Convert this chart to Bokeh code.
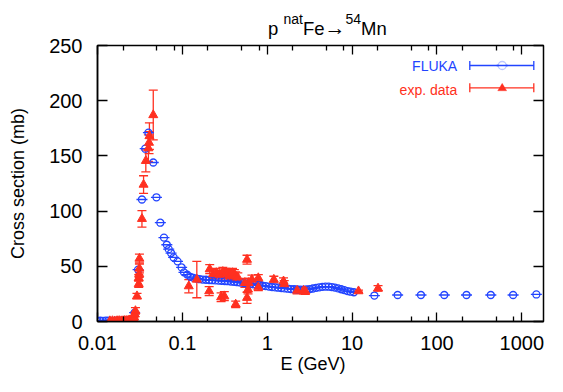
from bokeh.plotting import figure
from bokeh.layouts import column
from bokeh.models import (Range1d, FixedTicker, LogAxis, LinearAxis, Whisker, TeeHead,
                          ColumnDataSource, Label, BoxAnnotation, PolyAnnotation,
                          CustomJSTickFormatter, Div)
from bokeh.embed import file_html
from bokeh.resources import INLINE

# ---------------- data ----------------
fluka_e = [0.0100, 0.0108, 0.0116, 0.0125, 0.0134, 0.0144, 0.0155, 0.0167, 0.0180, 0.0193,
           0.0208, 0.0224, 0.0241, 0.0259,
           0.0274, 0.0301, 0.0334, 0.0365, 0.0398, 0.0454, 0.0495, 0.0550, 0.0607, 0.0656,
           0.0690, 0.0736, 0.0789, 0.0877, 0.0980, 0.1045, 0.1140, 0.1245,
           0.135, 0.147, 0.160, 0.174, 0.190, 0.207, 0.225, 0.245, 0.267, 0.290,
           0.316, 0.344, 0.375, 0.408, 0.445, 0.485, 0.528, 0.575, 0.626, 0.682,
           0.743, 0.810, 0.880, 0.960, 1.05, 1.14, 1.24, 1.35, 1.47, 1.60,
           1.75, 1.90, 2.07, 2.25, 2.45, 2.67, 2.91, 3.17, 3.45, 3.76,
           4.10, 4.46, 4.86, 5.30, 5.77, 6.28, 6.84, 7.45, 8.10, 8.83,
           9.60, 10.5,
           18.3, 34.4, 64.8, 122, 223, 431, 789, 1483]
fluka_xs = [0.6, 0.7, 0.6, 0.8, 0.7, 0.6, 0.5, 0.6, 0.5, 0.7,
            0.8, 0.9, 1.2, 2.0,
            8.0, 47, 110.5, 156.5, 171, 144, 112.5, 89.5, 76, 69.5,
            65.5, 62, 58, 54.5, 49, 44.5, 42.5, 40.5,
            39.5, 38.8, 38.3, 38.0, 37.8, 37.6, 37.4, 37.2, 37.0, 36.9,
            36.7, 36.5, 36.2, 36.0, 35.6, 35.2, 34.8, 34.4, 34.0, 33.6,
            33.2, 32.8, 32.4, 32.0, 31.6, 31.2, 30.9, 30.6, 30.3, 30.0,
            29.7, 29.4, 29.2, 29.0, 28.8, 28.8, 29.0, 29.4, 29.9, 30.5,
            31.0, 31.4, 31.6, 31.5, 31.2, 30.7, 30.0, 29.2, 28.4, 27.6,
            27.0, 26.5,
            23.5, 24.0, 24.0, 24.0, 24.0, 24.0, 24.0, 24.5]

exp_e = [0.0140, 0.0150, 0.0160, 0.0170, 0.0180, 0.0190, 0.0200, 0.0210, 0.0220, 0.0230,
         0.0240, 0.0250,
         0.0265, 0.0270, 0.0275, 0.0280, 0.0292, 0.0306, 0.0306, 0.0310, 0.0312, 0.0312,
         0.0334, 0.0349, 0.0371, 0.0398, 0.0405, 0.0409, 0.0454,
         0.119, 0.148, 0.207, 0.210, 0.230, 0.251, 0.274, 0.286, 0.300, 0.312,
         0.327, 0.340, 0.356, 0.370, 0.390, 0.410, 0.425, 0.425, 0.450, 0.545,
         0.578, 0.578, 0.594, 0.603, 0.660, 0.785, 0.785, 1.196, 1.556, 1.585,
         2.25, 2.68, 2.81, 11.9, 20.2]
exp_xs = [0.4, 0.5, 0.3, 0.5, 0.6, 0.4, 0.5, 0.7, 0.6, 0.9,
          1.2, 1.8,
          2.5, 3.6, 6.5, 9.6, 23, 34, 39.5, 43, 48, 57,
          93, 124, 145.5, 157, 162, 168, 187,
          32, 38, 27.5, 47.5, 43, 44, 42.4, 22, 45, 23,
          44, 43, 41, 42, 44, 43, 41, 15.5, 40, 35,
          56, 21.5, 29, 35, 38, 39.4, 31, 38, 36.5, 34,
          28, 28, 27.5, 27.5, 30]
exp_err = [0.5, 0.5, 0.5, 0.5, 0.5, 0.5, 0.5, 0.5, 0.5, 0.5,
           0.6, 0.8,
           1.0, 1.5, 2.0, 3.0, 2.5, 3.0, 3.0, 3.0, 4.0, 4.0,
           7.5, 8.0, 10, 12, 10, 12, 22.5,
           6, 16.5, 4, 4, 4, 4, 4, 4, 4, 4,
           4, 4, 4, 4, 4, 4, 4, 3, 4, 4,
           4, 5, 4, 4, 4, 3, 3, 3, 3, 3,
           3, 3, 3, 1, 2.5]

x_ticks = [0.01, 0.1, 1, 10, 100, 1000]
x_tick_labels = ["0.01", "0.1", "1", "10", "100", "1000"]
x_minor_ticks = [0.02, 0.05, 0.08, 0.2, 0.5, 0.8, 2, 5, 8, 20, 50, 80, 200, 500, 800]
y_ticks = [0, 50, 100, 150, 200, 250]

series_names = ["FLUKA", "exp. data"]

# ---------------- style ----------------
BLUE = "#2244ff"
RED = "#ff3020"
FONT = "Liberation Sans"

# title with superscripts, as real HTML text
sup = "font-size:14px;position:relative;top:-11px;"
arrow = '<span style="display:inline-block;width:21px;font-size:21px;line-height:20px;">\u2192</span>'
title_html = (f'<div style="font-family:\'{FONT}\';font-size:18.5px;line-height:20px;'
              f'color:black;white-space:nowrap;padding-left:268px;padding-top:18px;">'
              f'p <span style="{sup}">nat</span>Fe{arrow}<span style="{sup}">54</span>Mn</div>')
title_div = Div(text=title_html, width=547, height=33, margin=(0, 0, 0, 0),
                styles={"overflow": "visible", "position": "relative", "z-index": "5"})

p = figure(width=547, height=343, x_axis_type="log",
           x_range=Range1d(0.01, 1800), y_range=Range1d(0, 250),
           output_backend="svg", toolbar_location=None, margin=(0, 0, 0, 0),
           min_border_left=97, min_border_right=1, min_border_top=12, min_border_bottom=54)
p.grid.visible = False
p.outline_line_color = "black"
p.outline_line_width = 1.5
p.background_fill_color = "white"
p.border_fill_color = "white"
p.border_fill_alpha = 0

xt = FixedTicker(ticks=x_ticks, minor_ticks=x_minor_ticks)
yt = FixedTicker(ticks=y_ticks, minor_ticks=[])
xfmt = CustomJSTickFormatter(args=dict(vals=x_ticks, labs=x_tick_labels), code="""
const i = vals.indexOf(tick);
return i >= 0 ? labs[i] : String(tick);
""")
blank = CustomJSTickFormatter(code="return ' ';")

xa = p.xaxis[0]
xa.ticker = xt
xa.formatter = xfmt
ya = p.yaxis[0]
ya.ticker = yt
for ax in (xa, ya):
    ax.axis_line_width = 1.5
    ax.major_tick_out = 0
    ax.minor_tick_out = 0
    ax.major_tick_line_width = 1.3
    ax.minor_tick_line_width = 1.3
    ax.major_label_text_font = FONT
    ax.major_label_text_font_size = "20px"
    ax.major_label_text_color = "black"
    ax.axis_label_text_font = FONT
    ax.axis_label_text_font_size = "18px"
    ax.axis_label_text_font_style = "normal"
    ax.axis_label_text_color = "black"
xa.major_tick_in = 9
xa.minor_tick_in = 5
ya.major_tick_in = 10
ya.minor_tick_in = 0
xa.major_label_standoff = 14
ya.major_label_standoff = 15
xa.axis_label = "E    (GeV)"
ya.axis_label = "Cross section (mb)"
xa.axis_label_standoff = 1
ya.axis_label_standoff = 18

top = LogAxis(ticker=xt, formatter=blank, major_label_text_font_size="2px",
              major_label_standoff=0,
              major_tick_in=9, major_tick_out=0, minor_tick_in=5, minor_tick_out=0,
              major_tick_line_width=1.3, minor_tick_line_width=1.3,
              axis_line_color=None)
p.add_layout(top, "above")
right = LinearAxis(ticker=yt, formatter=blank, major_label_text_font_size="2px",
                   major_label_standoff=0,
                   major_tick_in=10, major_tick_out=0, minor_tick_in=0, minor_tick_out=0,
                   major_tick_line_width=1.3, axis_line_color=None)
p.add_layout(right, "right")

# ---------------- data glyphs ----------------
src_f = ColumnDataSource(dict(e=fluka_e, xs=fluka_xs))
p.scatter("e", "xs", source=src_f, marker="dash", size=11, line_color=BLUE, line_width=1.3)
p.scatter("e", "xs", source=src_f, marker="circle", size=7, fill_color=None,
          line_color=BLUE, line_width=1.3)

lo = [v - d for v, d in zip(exp_xs, exp_err)]
hi = [v + d for v, d in zip(exp_xs, exp_err)]
src_e = ColumnDataSource(dict(e=exp_e, xs=exp_xs, lo=lo, hi=hi))
w = Whisker(source=src_e, base="e", lower="lo", upper="hi", dimension="height",
            line_color=RED, line_width=1.3,
            upper_head=TeeHead(size=9, line_color=RED, line_width=1.3),
            lower_head=TeeHead(size=9, line_color=RED, line_width=1.3))
p.add_layout(w)
p.scatter("e", "xs", source=src_e, marker="triangle", size=9, fill_color=RED,
          line_color=RED)

# ---------------- legend (manual, text left of sample) ----------------
def sbox(l, r, b, t, **kw):
    return BoxAnnotation(left=l, right=r, bottom=b, top=t,
                         left_units="screen", right_units="screen",
                         bottom_units="screen", top_units="screen", **kw)

LX0, LX1, LXC = 372.3, 436.3, 404.7
leg_rows = [(series_names[0], BLUE, 255.3, 256.0), (series_names[1], RED, 231.3, 233.7)]
for name, col, ty, ly in leg_rows:
    p.add_layout(Label(x=359.7, y=ty, x_units="screen", y_units="screen", text=name,
                       text_font=FONT, text_font_size="14px", text_color=col,
                       text_align="right", text_baseline="middle"))
    p.add_layout(sbox(LX0, LX1, ly - 0.65, ly + 0.65,
                      fill_color=col, fill_alpha=1, line_color=None))
    for cx in (LX0, LX1):
        p.add_layout(sbox(cx - 0.65, cx + 0.65, ly - 4.5, ly + 4.5,
                          fill_color=col, fill_alpha=1, line_color=None))
# legend markers
fy = leg_rows[0][3]
ey = leg_rows[1][3]
p.add_layout(sbox(LXC - 4, LXC + 4, fy - 4, fy + 4,
                  border_radius=4, fill_color="white", fill_alpha=1,
                  line_color=BLUE, line_width=1.3))
p.add_layout(sbox(LXC - 5.5, LXC + 5.5, fy - 0.65, fy + 0.65,
                  fill_color=BLUE, fill_alpha=1, line_color=None))
p.add_layout(PolyAnnotation(xs=[LXC - 4.5, LXC + 4.5, LXC], ys=[ey - 3, ey - 3, ey + 4.5],
                            xs_units="screen", ys_units="screen",
                            fill_color=RED, fill_alpha=1, line_color=RED))

layout = column(title_div, p, spacing=0)
open("out.html", "w").write(file_html(layout, INLINE))
